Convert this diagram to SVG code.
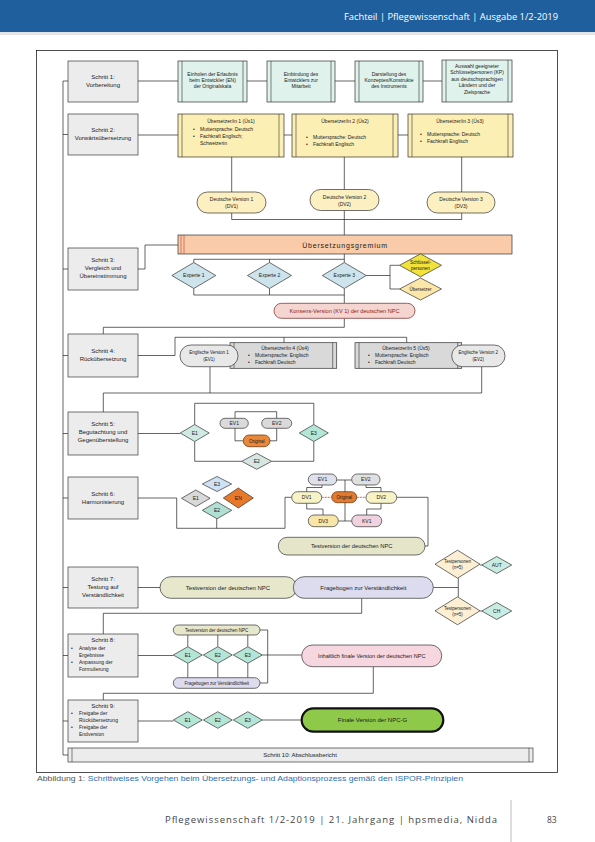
<svg xmlns="http://www.w3.org/2000/svg" width="595" height="842" viewBox="0 0 595 842">
<defs>
<style>
text{font-family:"Liberation Sans","DejaVu Sans",Arial,sans-serif;fill:#1a1a1a}
.c{text-anchor:middle}
.st{fill:#ececec;stroke:#3a3a3a;stroke-width:.7}
.tb{fill:#dff2ec;stroke:#333;stroke-width:.7}
.yb{fill:#fcefb4;stroke:#333;stroke-width:.7}
.gb{fill:#d9d9d9;stroke:#333;stroke-width:.7}
.bar{stroke:#333;stroke-width:.6;fill:none}
.ov{stroke:#333;stroke-width:.7}
.dm{stroke:#333;stroke-width:.7}
.ln{stroke:#222;stroke-width:.7;fill:none}
.f6{font-size:6px}
.f5{font-size:5px}
.f45{font-size:4.5px}
</style>
</defs>
<rect width="595" height="842" fill="#ffffff"/>
<g id="header">
<rect x="0" y="0" width="595" height="32" fill="#1f5f9e"/>
<rect x="0" y="32" width="595" height="3" fill="#e4e4e4"/>
<text x="558" y="20" font-size="9.5" style="fill:#ffffff;font-family:'Open Sans','Liberation Sans',sans-serif" text-anchor="end" textLength="214" lengthAdjust="spacingAndGlyphs">Fachteil | Pflegewissenschaft | Ausgabe 1/2-2019</text>
</g>
<rect id="frame" x="36.5" y="50.5" width="521" height="722" fill="none" stroke="#222" stroke-width=".8"/>

<g id="connectors">
<path class="ln" d="M63 81 V755 M63 81 H68 M63 134.5 H68 M63 269 H68 M63 355.5 H68 M63 433.5 H68 M63 498 H68 M63 587.5 H68 M63 655.5 H68 M63 721 H68 M63 755 H68"/>
<path class="ln" d="M138 81 H178 M247 81 H267 M335 81 H355 M423 81 H442"/>
<path class="ln" d="M138 135 H178 M284 135 H292 M398 135 H408"/>
<path class="ln" d="M231.7 157 V192 M344.3 157 V189.5 M461.7 157 V192 M231.7 213 V219.5 H461.7 V213 M344.3 210.5 V235"/>
<path class="ln" d="M138 269 H145 V245 H178"/>
<path class="ln" d="M344.3 254 V262.5 M193.8 259.3 H344.3 M193.8 259.3 V262.5 M269.5 259.3 V262.5"/>
<path class="ln" d="M193.8 288.5 V295 H344.3 M269.5 288.5 V295 M344.3 288.5 V303.3"/>
<path class="ln" d="M366.2 275.5 H390 M390 265.3 V289 M390 265.3 H399.5 M390 289 H399.5"/>
<path class="ln" d="M344.3 318.3 V327.3 H103.3 V334"/>
<path class="ln" d="M138 355.5 H175 V337.3 H406.7 M284 337.3 V342.7 M406.7 337.3 V342.7"/>
<path class="ln" d="M210 366.7 V393 M481.7 366.7 V393 M103.3 393 H481.7 M103.3 393 V412"/>
<path class="ln" d="M138 433.5 H180.2"/>
<path class="ln" d="M194.7 424.5 V403.3 H313.8 V424.5 M194.7 441.5 V461.3 H241.7 M271.7 461.3 H313.8 V441.5"/>
<path class="ln" d="M235 418.3 V411.7 H276.7 V418.3 M235 428.3 V440.8 H243.3 M270 440.8 H276.7 V428.3"/>
<path class="ln" d="M138 498 H176.7 V528.3 H285 V497.3 H291.7 M216.7 518.8 V528.3"/>
<path class="ln" d="M345 480 V521 M336.7 480 H351.7 M338.3 521 H351.7"/>
<path d="M321.7 497.3 H331.7 M356.7 497.3 H366" stroke="#c0392b" stroke-width=".8" stroke-dasharray="2 1" fill="none"/>
<path class="ln" d="M306.7 491.7 V487.5 H322 V485 M381 491.7 V487.5 H366 V485 M306.7 503.3 V509 H323 V515 M381 503.3 V509 H366.7 V515"/>
<path class="ln" d="M396.7 497.3 H428 V546 H425"/>
<path class="ln" d="M138 587.5 H160 M433.3 587.5 H458.3 M458.3 578.2 V596.8"/>
<path class="ln" d="M480 565 H481.7 M480 611 H481.7"/>
<path class="ln" d="M361.7 598.3 V613.3 H103.3 V634"/>
<path class="ln" d="M138 655.5 H173.3 M187.8 635 V646.7 M217.8 635 V646.7 M247.8 635 V646.7 M187.8 663.3 V677.7 M217.8 663.3 V677.7 M247.8 663.3 V677.7 M260 630 H267.7 V683 H260 M262.3 655 H301.7"/>
<path class="ln" d="M373.3 666.7 V693.3 H103.3 V700"/>
<path class="ln" d="M138 721 H173.3 M262.3 720 H301.7"/>
</g>

<g id="s1"><rect class="st" x="68" y="61" width="70" height="41"/><text class="c f6" x="103" y="79">Schritt 1:</text><text class="c f6" x="103" y="87">Vorbereitung</text></g>
<g id="s2"><rect class="st" x="68" y="114" width="70" height="41"/><text class="c f6" x="103" y="132">Schritt 2:</text><text class="c f6" x="103" y="140">Vorwärtsübersetzung</text></g>
<g id="s3"><rect class="st" x="68" y="248" width="70" height="42"/><text class="c f6" x="103" y="262">Schritt 3:</text><text class="c f6" x="103" y="270">Vergleich und</text><text class="c f6" x="103" y="278">Übereinstimmung</text></g>
<g id="s4"><rect class="st" x="68" y="334" width="70" height="43"/><text class="c f6" x="103" y="353">Schritt 4:</text><text class="c f6" x="103" y="361">Rückübersetzung</text></g>
<g id="s5"><rect class="st" x="68" y="412" width="70" height="43"/><text class="c f6" x="103" y="426">Schritt 5:</text><text class="c f6" x="103" y="434">Begutachtung und</text><text class="c f6" x="103" y="442">Gegenüberstellung</text></g>
<g id="s6"><rect class="st" x="68" y="477" width="70" height="42"/><text class="c f6" x="103" y="496">Schritt 6:</text><text class="c f6" x="103" y="504">Harmonisierung</text></g>
<g id="s7"><rect class="st" x="68" y="567" width="70" height="41"/><text class="c f6" x="103" y="581">Schritt 7:</text><text class="c f6" x="103" y="589">Testung auf</text><text class="c f6" x="103" y="597">Verständlichkeit</text></g>
<g id="s8"><rect class="st" x="68" y="634" width="70" height="43"/><text class="c f6" x="103" y="642">Schritt 8:</text>
<text class="f5" x="71" y="650">•</text><text class="f5" x="79" y="650">Analyse der</text><text class="f5" x="79" y="657">Ergebnisse</text><text class="f5" x="71" y="664">•</text><text class="f5" x="79" y="664">Anpassung der</text><text class="f5" x="79" y="671">Formulierung</text></g>
<g id="s9"><rect class="st" x="68" y="700" width="70" height="42"/><text class="c f6" x="103" y="707.5">Schritt 9:</text>
<text class="f5" x="71" y="715">•</text><text class="f5" x="79" y="715">Freigabe der</text><text class="f5" x="79" y="722">Rückübersetzung</text><text class="f5" x="71" y="729">•</text><text class="f5" x="79" y="729">Freigabe der</text><text class="f5" x="79" y="736">Endversion</text></g>
<g id="s10"><rect class="st" x="68" y="748" width="465" height="14"/><path class="bar" d="M72 748 V762 M529 748 V762"/><text class="c f6" x="300" y="757.3">Schritt 10: Abschlussbericht</text></g>

<g id="v1"><rect class="tb" x="178" y="61" width="69" height="41"/><path class="bar" d="M182 61 V102 M243 61 V102"/><text class="c f5" x="212.5" y="76">Einholen der Erlaubnis</text><text class="c f5" x="212.5" y="82">beim Entwickler (EN)</text><text class="c f5" x="212.5" y="88">der Originalskala</text></g>
<g id="v2"><rect class="tb" x="267" y="61" width="68" height="41"/><path class="bar" d="M271 61 V102 M331 61 V102"/><text class="c f5" x="301" y="76">Einbindung des</text><text class="c f5" x="301" y="82">Entwicklers zur</text><text class="c f5" x="301" y="88">Mitarbeit</text></g>
<g id="v3"><rect class="tb" x="355" y="61" width="68" height="41"/><path class="bar" d="M359 61 V102 M419 61 V102"/><text class="c f5" x="389" y="76">Darstellung des</text><text class="c f5" x="389" y="82">Konzeptes/Konstrukte</text><text class="c f5" x="389" y="88">des Instruments</text></g>
<g id="v4"><rect class="tb" x="442" y="60" width="70" height="42"/><path class="bar" d="M446 60 V102 M508 60 V102"/><text class="c f5" x="477" y="67.5">Auswahl geeigneter</text><text class="c f5" x="477" y="74">Schlüsselpersonen (KP)</text><text class="c f5" x="477" y="80.5">aus deutschsprachigen</text><text class="c f5" x="477" y="87">Ländern und der</text><text class="c f5" x="477" y="93.5">Zielsprache</text></g>

<g id="us1"><rect class="yb" x="178" y="114" width="106" height="43"/><path class="bar" d="M182 114 V157 M279 114 V157"/><text class="c f5" x="231" y="123">Übersetzer/in 1 (Üs1)</text><text class="f5" x="193" y="131">•</text><text class="f5" x="200" y="131">Muttersprache: Deutsch</text><text class="f5" x="193" y="138">•</text><text class="f5" x="200" y="138">Fachkraft Englisch;</text><text class="f5" x="200" y="145">Schweizerin</text></g>
<g id="us2"><rect class="yb" x="292" y="114" width="106" height="43"/><path class="bar" d="M296 114 V157 M393 114 V157"/><text class="c f5" x="345" y="123">Übersetzer/in 2 (Üs2)</text><text class="f5" x="306" y="139">•</text><text class="f5" x="313" y="139">Muttersprache: Deutsch</text><text class="f5" x="306" y="146">•</text><text class="f5" x="313" y="146">Fachkraft Englisch</text></g>
<g id="us3"><rect class="yb" x="408" y="114" width="105" height="43"/><path class="bar" d="M412 114 V157 M508 114 V157"/><text class="c f5" x="460" y="123">Übersetzer/in 3 (Üs3)</text><text class="f5" x="420" y="136">•</text><text class="f5" x="427" y="136">Muttersprache: Deutsch</text><text class="f5" x="420" y="143">•</text><text class="f5" x="427" y="143">Fachkraft Englisch</text></g>

<g id="dv1"><rect class="ov" x="197" y="192" width="69" height="21" rx="10.5" fill="#fdf0c0"/><text class="c f5" x="231.5" y="201">Deutsche Version 1</text><text class="c f5" x="231.5" y="208">(DV1)</text></g>
<g id="dv2"><rect class="ov" x="310" y="189.5" width="69" height="21" rx="10.5" fill="#fdf0c0"/><text class="c f5" x="344.5" y="198.5">Deutsche Version 2</text><text class="c f5" x="344.5" y="205.5">(DV2)</text></g>
<g id="dv3"><rect class="ov" x="427" y="192" width="68" height="21" rx="10.5" fill="#fdf0c0"/><text class="c f5" x="461" y="201">Deutsche Version 3</text><text class="c f5" x="461" y="208">(DV3)</text></g>

<g id="gremium"><rect x="178" y="235" width="334" height="19" fill="#f9cba9" stroke="#333" stroke-width=".7"/><path d="M181 235 V254 M184 235 V254" stroke="#c0392b" stroke-width=".6"/><text class="c" x="345" y="247.5" font-size="7" letter-spacing=".8">Übersetzungsgremium</text></g>

<g id="exp1"><polygon class="dm" points="171.8,275.5 193.8,262.5 215.8,275.5 193.8,288.5" fill="#cde4ec"/><text class="c f5" x="193.8" y="277.3">Experte 1</text></g>
<g id="exp2"><polygon class="dm" points="247.5,275.5 269.5,262.5 291.5,275.5 269.5,288.5" fill="#cde4ec"/><text class="c f5" x="269.5" y="277.3">Experte 2</text></g>
<g id="exp3"><polygon class="dm" points="322.3,275.5 344.3,262.5 366.3,275.5 344.3,288.5" fill="#cde4ec"/><text class="c f5" x="344.3" y="277.3">Experte 3</text></g>
<g id="kp"><polygon class="dm" points="399.5,265.3 420.5,253.8 441.5,265.3 420.5,276.8" fill="#f1e23c"/><text class="c f45" x="420.5" y="264">Schlüssel-</text><text class="c f45" x="420.5" y="269.5">personen</text></g>
<g id="ueb"><polygon class="dm" points="399.5,289 420.5,278 441.5,289 420.5,300" fill="#fbe7a8"/><text class="c f45" x="420.5" y="290.6">Übersetzer</text></g>

<g id="kv1"><rect x="274" y="303.3" width="141" height="15" rx="7.5" fill="#f5d5d0" stroke="#8b3a3a" stroke-width=".8"/><text class="c" x="344.5" y="313" font-size="5.6" style="fill:#8b1f1f">Konsens-Version (KV 1) der deutschen NPC</text></g>

<g id="us4"><rect class="gb" x="230" y="342.7" width="106.7" height="25.6"/><path class="bar" d="M234 342.7 V368.3 M332.7 342.7 V368.3"/><text class="c f5" x="285" y="350">Übersetzer/in 4 (Üs4)</text><text class="f5" x="248" y="357">•</text><text class="f5" x="255" y="357">Muttersprache: Englisch</text><text class="f5" x="248" y="364">•</text><text class="f5" x="255" y="364">Fachkraft Deutsch</text></g>
<g id="ev1"><rect class="ov" x="180" y="345" width="58" height="21.7" rx="10.8" fill="#e8e8e8"/><text class="c f45" x="209" y="354">Englische Version 1</text><text class="c f45" x="209" y="361">(EV1)</text></g>
<g id="us5"><rect class="gb" x="355" y="342.7" width="106.7" height="25.6"/><path class="bar" d="M359 342.7 V368.3 M457.7 342.7 V368.3"/><text class="c f5" x="406" y="350">Übersetzer/in 5 (Üs5)</text><text class="f5" x="368" y="357">•</text><text class="f5" x="375" y="357">Muttersprache: Englisch</text><text class="f5" x="368" y="364">•</text><text class="f5" x="375" y="364">Fachkraft Deutsch</text></g>
<g id="ev2"><rect class="ov" x="451.7" y="345" width="53.3" height="21.7" rx="10.8" fill="#e8e8e8"/><text class="c f45" x="478.3" y="354">Englische Version 2</text><text class="c f45" x="478.3" y="361">(EV2)</text></g>

<g id="s5e1"><polygon class="dm" points="180.2,433 194.7,424.5 209.2,433 194.7,441.5" fill="#cfe9e3"/><text class="c f5" x="194.7" y="434.8">E1</text></g>
<g id="s5e3"><polygon class="dm" points="299.3,433 313.8,424.5 328.3,433 313.8,441.5" fill="#b3e6d7"/><text class="c f5" x="313.8" y="434.8">E3</text></g>
<g id="s5e2"><polygon class="dm" points="241.7,461.3 256.7,453.3 271.7,461.3 256.7,469.3" fill="#d7e6e0"/><text class="c f5" x="256.7" y="463.1">E2</text></g>
<g id="s5ev1"><rect class="ov" x="220" y="418.3" width="28.3" height="10" rx="5" fill="#dadada"/><text class="c f5" x="234.2" y="425">EV1</text></g>
<g id="s5ev2"><rect class="ov" x="261.7" y="418.3" width="30" height="10" rx="5" fill="#dadada"/><text class="c f5" x="276.7" y="425">EV2</text></g>
<g id="s5orig"><rect x="243.3" y="435" width="26.7" height="11.7" rx="5.8" fill="#e8883b" stroke="#7a3b10" stroke-width=".8"/><text class="c f45" x="256.7" y="442.5">Original</text></g>

<g id="s6e1"><polygon class="dm" points="181.5,498.3 195.8,490 210.1,498.3 195.8,506.6" fill="#d9d9d9"/><text class="c f5" x="195.8" y="500.1">E1</text></g>
<g id="s6e3"><polygon class="dm" points="202.3,484 217,476.5 231.7,484 217,491.5" fill="#cfe2f3"/><text class="c f5" x="217" y="485.8">E3</text></g>
<g id="s6e2"><polygon class="dm" points="202.3,510.3 217,501.8 231.7,510.3 217,518.8" fill="#b0dfd3"/><text class="c f5" x="217" y="512.1">E2</text></g>
<g id="s6en"><polygon class="dm" points="223.3,498 238.3,488 253.3,498 238.3,508" fill="#e8792a"/><text class="c f5" x="238.3" y="499.8">EN</text></g>

<g id="s6ev1"><rect class="ov" x="308.3" y="474" width="28.4" height="11" rx="5.5" fill="#dfe1ea"/><text class="c f5" x="322.5" y="481.2">EV1</text></g>
<g id="s6ev2"><rect class="ov" x="351.7" y="474" width="28.3" height="11" rx="5.5" fill="#e0e0e0"/><text class="c f5" x="365.8" y="481.2">EV2</text></g>
<g id="s6dv1"><rect class="ov" x="291.7" y="491.7" width="30" height="11.6" rx="5.8" fill="#f7f3c6"/><text class="c f5" x="306.7" y="499.2">DV1</text></g>
<g id="s6orig"><rect x="331.7" y="491.7" width="25" height="11" rx="5.5" fill="#e07b30" stroke="#7a3b10" stroke-width=".8"/><text class="c f45" x="344.2" y="498.8">Original</text></g>
<g id="s6dv2"><rect class="ov" x="366" y="491.7" width="30.7" height="11.6" rx="5.8" fill="#f7f3c6"/><text class="c f5" x="381.3" y="499.2">DV2</text></g>
<g id="s6dv3"><rect class="ov" x="308.3" y="515" width="30" height="11.7" rx="5.8" fill="#f8e6a8"/><text class="c f5" x="323.3" y="522.6">DV3</text></g>
<g id="s6kv1"><rect class="ov" x="351.7" y="515" width="30" height="11.7" rx="5.8" fill="#f0d3de"/><text class="c f5" x="366.7" y="522.6">KV1</text></g>
<g id="s6test"><rect class="ov" x="278.3" y="537.3" width="146.7" height="17.7" rx="8.8" fill="#e5e6c9"/><text class="c" x="351.7" y="548.2" font-size="5.8">Testversion der deutschen NPC</text></g>

<g id="s7test"><rect class="ov" x="160" y="576.7" width="136.7" height="21.6" rx="10.8" fill="#e6e7cb"/><text class="c f6" x="228" y="589.6">Testversion der deutschen NPC</text></g>
<g id="s7frage"><rect class="ov" x="293.3" y="576.7" width="140" height="21.6" rx="10.8" fill="#dcdcee"/><text class="c f6" x="363.3" y="589.6">Fragebogen zur Verständlichkeit</text></g>
<g id="tp1"><polygon class="dm" points="435,564.2 457.5,550.2 480,564.2 457.5,578.2" fill="#fcefd3"/><text class="c f45" x="457.5" y="563">Testpersonen</text><text class="c f45" x="457.5" y="569">(n=5)</text></g>
<g id="aut"><polygon class="dm" points="481.7,565 496.7,556.5 511.7,565 496.7,573.5" fill="#c9ece2"/><text class="c f5" x="496.7" y="566.8">AUT</text></g>
<g id="tp2"><polygon class="dm" points="435,610.8 457.5,596.8 480,610.8 457.5,624.8" fill="#fcefd3"/><text class="c f45" x="457.5" y="609.6">Testpersonen</text><text class="c f45" x="457.5" y="615.6">(n=5)</text></g>
<g id="ch"><polygon class="dm" points="481.7,611 496.7,602.5 511.7,611 496.7,619.5" fill="#c9ece2"/><text class="c f5" x="496.7" y="612.8">CH</text></g>

<g id="s8test"><rect class="ov" x="173.3" y="625" width="86.7" height="10" rx="5" fill="#e6e7cb"/><text class="c f45" x="216.7" y="631.6">Testversion der deutschen NPC</text></g>
<g id="s8e1"><polygon class="dm" points="173.3,655 187.8,646.7 202.3,655 187.8,663.3" fill="#b4e5d6"/><text class="c f5" x="187.8" y="656.8">E1</text></g>
<g id="s8e2"><polygon class="dm" points="203.3,655 217.8,646.7 232.3,655 217.8,663.3" fill="#b4e5d6"/><text class="c f5" x="217.8" y="656.8">E2</text></g>
<g id="s8e3"><polygon class="dm" points="233.3,655 247.8,646.7 262.3,655 247.8,663.3" fill="#b4e5d6"/><text class="c f5" x="247.8" y="656.8">E3</text></g>
<g id="s8frage"><rect class="ov" x="173.3" y="677.7" width="86.7" height="10.6" rx="5.3" fill="#dcdcee"/><text class="c f45" x="216.7" y="684.6">Fragebogen zur Verständlichkeit</text></g>
<g id="inhalt"><rect class="ov" x="301.7" y="645" width="140" height="21.7" rx="10.8" fill="#f6d6df"/><text class="c" x="371.7" y="657.8" font-size="5.6">Inhaltlich finale Version der deutschen NPC</text></g>

<g id="s9e1"><polygon class="dm" points="173.3,720 187.8,711.7 202.3,720 187.8,728.3" fill="#b4e5d6"/><text class="c f5" x="187.8" y="721.8">E1</text></g>
<g id="s9e2"><polygon class="dm" points="203.3,720 217.8,711.7 232.3,720 217.8,728.3" fill="#b4e5d6"/><text class="c f5" x="217.8" y="721.8">E2</text></g>
<g id="s9e3"><polygon class="dm" points="233.3,720 247.8,711.7 262.3,720 247.8,728.3" fill="#b4e5d6"/><text class="c f5" x="247.8" y="721.8">E3</text></g>
<g id="finale"><rect x="301.7" y="708.3" width="141.6" height="23.4" rx="11.7" fill="#8fc94a" stroke="#111" stroke-width="2.2"/><text class="c f6" x="372.5" y="722.2">Finale Version der NPC-G</text></g>

<g id="caption"><text x="37" y="781" font-size="6.6" textLength="426" lengthAdjust="spacingAndGlyphs"><tspan style="fill:#555">Abbildung 1: </tspan><tspan style="fill:#2f6fb0">Schrittweises Vorgehen beim Übersetzungs- und Adaptionsprozess gemäß den ISPOR-Prinzipien</tspan></text></g>
<g id="footer"><text x="165" y="823" font-size="9.5" style="fill:#444;font-family:'Open Sans','Liberation Sans',sans-serif" textLength="332" lengthAdjust="spacing">Pflegewissenschaft 1/2-2019 | 21. Jahrgang | hpsmedia, Nidda</text><line x1="511" y1="800" x2="511" y2="842" stroke="#aaa" stroke-width=".8"/><text x="547" y="823" font-size="8.5" style="fill:#444;font-family:'Open Sans','Liberation Sans',sans-serif">83</text></g>
</svg>
